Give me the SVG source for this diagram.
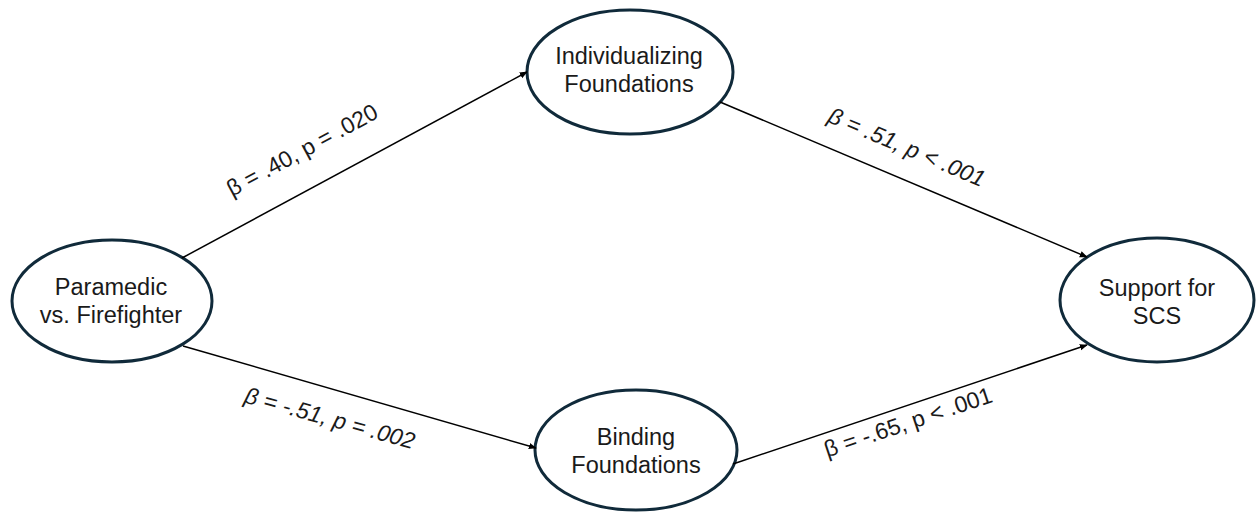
<svg xmlns="http://www.w3.org/2000/svg" width="1257" height="512" viewBox="0 0 1257 512">
<style>
.node{fill:#ffffff;stroke:#102a3a;stroke-width:3}
.nt{font-family:"Liberation Sans",Arial,sans-serif;font-size:23.5px;fill:#1a1a1a;text-anchor:middle}
.edge{stroke:#000;stroke-width:1.5;fill:none;marker-end:url(#arr)}
.lbl{font-family:"Liberation Sans",Arial,sans-serif;font-size:23px;fill:#1a1a1a;text-anchor:middle;dominant-baseline:central}
</style>
<defs>
<marker id="arr" viewBox="0 0 10 10" refX="9" refY="5" markerWidth="8" markerHeight="8" orient="auto" markerUnits="userSpaceOnUse">
<path d="M0,1 L10,5 L0,9 z" fill="#000"/>
</marker>
</defs>
<rect width="1257" height="512" fill="#ffffff"/>
<g id="paramedic">
<ellipse class="node" cx="112" cy="301" rx="100" ry="61"/>
<text class="nt" x="111" y="295">Paramedic</text>
<text class="nt" x="111" y="323">vs. Firefighter</text>
</g>
<g id="individualizing">
<ellipse class="node" cx="630" cy="72" rx="103" ry="62"/>
<text class="nt" x="629" y="64">Individualizing</text>
<text class="nt" x="629" y="92">Foundations</text>
</g>
<g id="binding">
<ellipse class="node" cx="636" cy="450" rx="101" ry="60"/>
<text class="nt" x="636" y="445">Binding</text>
<text class="nt" x="636" y="473">Foundations</text>
</g>
<g id="support">
<ellipse class="node" cx="1157" cy="300" rx="97" ry="62"/>
<text class="nt" x="1157" y="296">Support for</text>
<text class="nt" x="1157" y="324">SCS</text>
</g>
<g id="connectors">
<line class="edge" x1="182" y1="258" x2="527" y2="72"/>
<line class="edge" x1="720" y1="102" x2="1087" y2="257"/>
<line class="edge" x1="183" y1="346" x2="536" y2="448"/>
<line class="edge" x1="733" y1="464" x2="1087" y2="345"/>
<text class="lbl" transform="translate(302,150) rotate(-28.5)">β = .40, p = .020</text>
<text class="lbl" font-style="italic" transform="translate(330,418) rotate(15.5)">β = -.51, p = .002</text>
<text class="lbl" font-style="italic" transform="translate(907,147) rotate(23)">β = .51, p &lt; .001</text>
<text class="lbl" transform="translate(908,422) rotate(-18.6)">β = -.65, p &lt; .001</text>
</g>
</svg>
